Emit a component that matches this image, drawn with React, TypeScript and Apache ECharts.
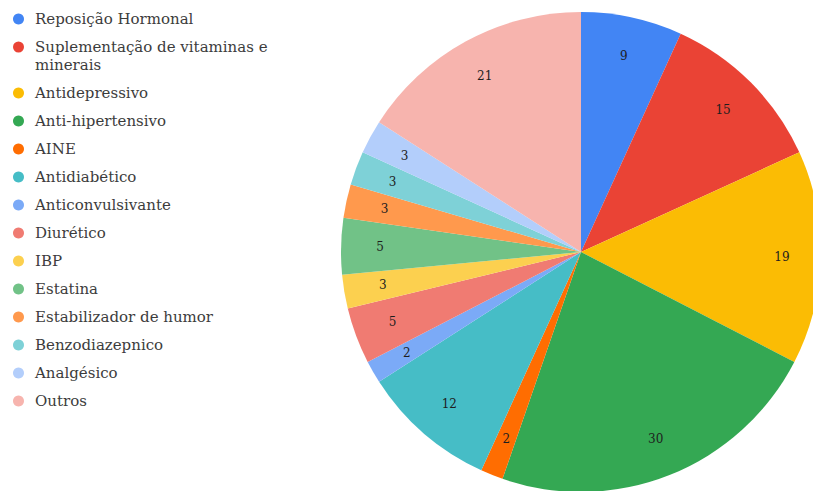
import React, { useEffect, useRef } from "react";
import * as echarts from "echarts";

const categories: string[] = [
  "Reposição Hormonal",
  "Suplementação de vitaminas e\nminerais",
  "Antidepressivo",
  "Anti-hipertensivo",
  "AINE",
  "Antidiabético",
  "Anticonvulsivante",
  "Diurético",
  "IBP",
  "Estatina",
  "Estabilizador de humor",
  "Benzodiazepnico",
  "Analgésico",
  "Outros",
];

const values: number[] = [9, 15, 19, 30, 2, 12, 2, 5, 3, 5, 3, 3, 3, 21];

const colors: string[] = [
  "#4285F4",
  "#EA4335",
  "#FBBC04",
  "#34A853",
  "#FF6D01",
  "#46BDC6",
  "#7BAAF7",
  "#F07B72",
  "#FCD04F",
  "#71C287",
  "#FF994D",
  "#7ED1D7",
  "#B3CEFB",
  "#F7B4AE",
];

const FONT = "DejaVu Serif";

// circle at the top of a taller box so that it lines up with the first text line
const TOP_CIRCLE_ICON =
  "path://M0,5.5 A5.5,5.5 0 1 1 11,5.5 A5.5,5.5 0 1 1 0,5.5 Z M5.5,29 L5.5,29";

export default function App() {
  const ref = useRef<HTMLDivElement>(null);
  useEffect(() => {
    document.body.style.margin = "0";
    const chart = echarts.init(ref.current!, null, { renderer: "svg" });
    const pieData = categories.map((name, i) => ({
      name,
      value: values[i],
      itemStyle: { color: colors[i] },
    }));
    const labelData = categories.map((name, i) => ({
      name,
      value: values[i],
    }));
    const legendBase = {
      orient: "vertical",
      left: 13,
      padding: 0,
      icon: "circle",
      itemWidth: 11,
      itemHeight: 11,
      itemGap: 10,
      selectedMode: false,
      textStyle: {
        fontFamily: FONT,
        fontSize: 15,
        color: "#3c3c3c",
        lineHeight: 18,
        padding: [0, 0, 0, 6],
      },
    };
    chart.setOption({
      animation: false,
      backgroundColor: "#ffffff",
      legend: [
        { ...legendBase, top: 10, data: [categories[0]] },
        {
          ...legendBase,
          top: 38,
          icon: TOP_CIRCLE_ICON,
          itemHeight: 29,
          data: [categories[1]],
        },
        { ...legendBase, top: 84, data: categories.slice(2) },
      ],
      series: [
        {
          type: "pie",
          center: [581, 252],
          radius: [0, 240],
          startAngle: 90,
          clockwise: true,
          silent: true,
          label: { show: false },
          labelLine: { show: false },
          itemStyle: { borderWidth: 0 },
          data: pieData,
        },
        {
          type: "pie",
          center: [581, 252],
          radius: [156, 240],
          startAngle: 90,
          clockwise: true,
          silent: true,
          itemStyle: { color: "rgba(0,0,0,0)", borderWidth: 0 },
          label: {
            show: true,
            position: "inside",
            formatter: "{c}",
            fontFamily: FONT,
            fontSize: 12,
            color: "#1e1e1e",
          },
          labelLine: { show: false },
          data: labelData,
        },
      ],
    });
    return () => chart.dispose();
  }, []);
  return <div ref={ref} style={{ width: 813, height: 491 }} />;
}
